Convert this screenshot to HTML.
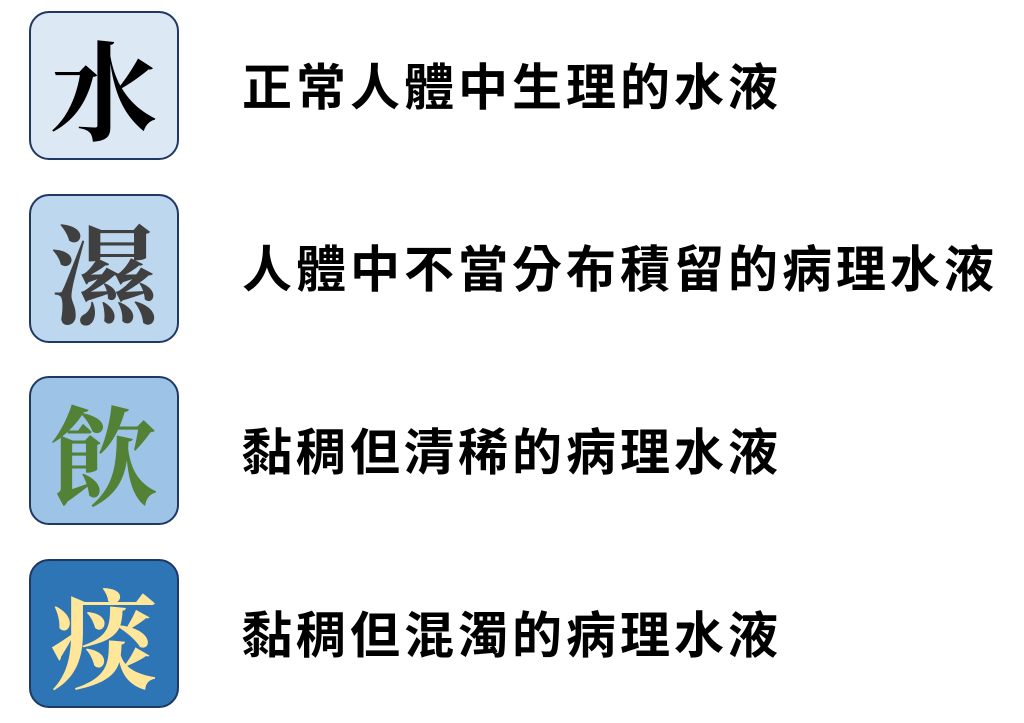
<!DOCTYPE html>
<html><head><meta charset="utf-8"><style>
body{margin:0;width:1024px;height:723px;background:#fff;position:relative;overflow:hidden}
.b{position:absolute;left:29px;width:146px;height:145px;border:2px solid #1f3864;border-radius:20px;display:flex;align-items:center;justify-content:center;font-family:"Noto Serif CJK TC","Noto Serif CJK SC",serif;font-weight:700;font-size:108px;line-height:1}
.t{position:absolute;left:242px;font-family:"Liberation Sans","Noto Sans CJK TC",sans-serif;font-weight:bold;font-size:50px;letter-spacing:4px;line-height:50px;color:#000;white-space:nowrap}
</style></head><body>
<div class="b" style="top:11px;background:#dde8f5;color:#000">水</div>
<div class="b" style="top:194px;background:#bdd7ee;color:#404040">濕</div>
<div class="b" style="top:376px;background:#9dc3e6;color:#538135">飲</div>
<div class="b" style="top:559px;background:#2e75b6;color:#ffe699">痰</div>
<div class="t" style="top:63px">正常人體中生理的水液</div>
<div class="t" style="top:245px">人體中不當分布積留的病理水液</div>
<div class="t" style="top:428px">黏稠但清稀的病理水液</div>
<div class="t" style="top:611px">黏稠但混濁的病理水液</div>
</body></html>
